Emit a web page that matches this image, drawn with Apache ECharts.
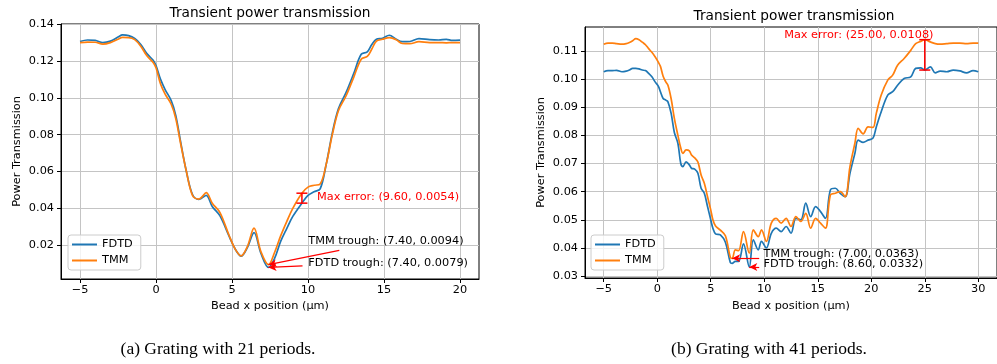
<!DOCTYPE html>
<html><head><meta charset="utf-8">
<script src="https://cdn.jsdelivr.net/npm/echarts@6/dist/echarts.min.js"></script>
<style>html,body{margin:0;padding:0;background:#fff}#c{width:997px;height:364px}</style>
</head><body><div id="c"></div>
<script>
// ---- data: (a) 21 periods ----
const xs21 = [-5,-4.5,-4,-3.5,-3,-2.5,-2.2,-1.8,-1.4,-1,-0.6,-0.2,0,0.3,0.6,1,1.3,1.6,2,2.4,2.8,3,3.3,3.7,4.2,4.8,5.2,5.6,6,6.45,6.9,7.4,7.8,8.2,8.6,9,9.6,10,10.4,10.8,11.2,11.6,12,12.5,13,13.5,13.9,14.2,14.5,14.9,15.35,15.8,16.2,16.7,17.3,18,18.6,19.1,19.5,20];
const fdtd21 = [0.1306,0.1314,0.1312,0.1300,0.1308, 0.1330,0.1342,0.1338,0.1322,0.1290, 0.1240,0.1205,0.1175,0.1100,0.1045, 0.0985,0.0905,0.0770,0.0600,0.0475, 0.0448,0.0455,0.0470,0.0410,0.0360, 0.0250,0.0180,0.0140,0.0185,0.0268, 0.0156,0.0079,0.0128,0.0220,0.0290, 0.0356,0.0428,0.0470,0.0490,0.0505, 0.0640,0.0810,0.0940,0.1028,0.1130, 0.1237,0.1250,0.1290,0.1318,0.1323, 0.1340,0.1318,0.1305,0.1306,0.1322, 0.1316,0.1314,0.1318,0.1312,0.1313];
const tmm21 = [0.1300,0.1303,0.1302,0.1292,0.1300, 0.1318,0.1328,0.1327,0.1316,0.1280, 0.1228,0.1193,0.1163,0.1075,0.1020, 0.0965,0.0888,0.0760,0.0600,0.0470, 0.0450,0.0460,0.0485,0.0428,0.0378, 0.0255,0.0180,0.0142,0.0190,0.0292, 0.0165,0.0094,0.0160,0.0250,0.0328, 0.0400,0.0482,0.0515,0.0525,0.0532, 0.0640,0.0800,0.0930,0.1010,0.1110, 0.1210,0.1225,0.1265,0.1308,0.1318, 0.1327,0.1316,0.1295,0.1294,0.1305, 0.1300,0.1300,0.1299,0.1300,0.1300];
// ---- data: (b) 41 periods ----
const xs41 = [-5,-4.6,-4.2,-3.8,-3.3, -2.9,-2.6,-2.3,-2,-1.7, -1.4,-1.1,-0.8,-0.5,-0.2, 0.1,0.3,0.55,0.8,1, 1.3,1.6,1.93,2.2,2.4, 2.7,3,3.2,3.5,3.8, 4.1,4.4,4.7,5,5.2, 5.45,5.9,6.37,6.83,7, 7.3,7.6,8.06,8.6,8.98, 9.44,9.74,10.2,10.66,11.12, 11.58,12.04,12.5,12.96,13.42, 13.88,14.34,14.8,15.26,15.72, 16.18,16.64,17.1,17.56,18.01, 18.47,18.78,19.24,19.7,20.16, 20.47,20.93,21.54,22,22.46, 23.07,23.69,24.15,24.61,25, 25.52,25.98,26.44,27.06,27.66, 28.28,28.9,29.51,30];
const fdtd41 = [0.1026,0.1030,0.1030,0.1031,0.1026, 0.1028,0.1032,0.1038,0.1038,0.1036, 0.1032,0.1030,0.1020,0.1008,0.0990, 0.0975,0.0955,0.0931,0.0925,0.0919, 0.0878,0.0810,0.0772,0.0700,0.0689, 0.0706,0.0695,0.0683,0.0680,0.0665, 0.0612,0.0594,0.0547,0.0500,0.0470, 0.0450,0.0446,0.0420,0.0348,0.0345, 0.0352,0.0352,0.0414,0.0332,0.0429, 0.0393,0.0423,0.0400,0.0452,0.0470, 0.0458,0.0476,0.0452,0.0505,0.0500, 0.0559,0.0511,0.0547,0.0529,0.0505, 0.0606,0.0612,0.0594,0.0582,0.0665, 0.0736,0.0783,0.0775,0.0783,0.0790, 0.0830,0.0884,0.0943,0.0955,0.0978, 0.1002,0.1008,0.1038,0.1040,0.1032, 0.1043,0.1022,0.1028,0.1026,0.1032, 0.1029,0.1022,0.1030,0.1026];
const tmm41 = [0.1124,0.1128,0.1128,0.1126,0.1124, 0.1126,0.1130,0.1136,0.1144,0.1140, 0.1131,0.1122,0.1108,0.1095,0.1079, 0.1060,0.1045,0.1010,0.0990,0.0978, 0.0930,0.0860,0.0800,0.0755,0.0736, 0.0748,0.0745,0.0730,0.0720,0.0705, 0.0659,0.0630,0.0582,0.0535,0.0500, 0.0478,0.0463,0.0443,0.0366,0.0363, 0.0393,0.0390,0.0458,0.0381,0.0464, 0.0440,0.0464,0.0423,0.0488,0.0505, 0.0488,0.0505,0.0476,0.0511,0.0494, 0.0523,0.0470,0.0505,0.0488,0.0470, 0.0588,0.0594,0.0600,0.0582,0.0689, 0.0772,0.0825,0.0805,0.0830,0.0828, 0.0878,0.0943,0.0996,0.1014,0.1049, 0.1073,0.1102,0.1126,0.1134,0.1140, 0.1132,0.1126,0.1124,0.1126,0.1128, 0.1128,0.1126,0.1128,0.1128];
// ---- ticks ----
const xTicks21 = [-5,0,5,10,15,20];
const yTicks21 = [0.02,0.04,0.06,0.08,0.10,0.12,0.14];
const xTicks41 = [-5,0,5,10,15,20,25,30];
const yTicks41 = [0.03,0.04,0.05,0.06,0.07,0.08,0.09,0.10,0.11];
const xRange21 = [-6.25, 21.25], yRange21 = [0.0016, 0.1401];
const xRange41 = [-6.75, 31.75], yRange41 = [0.0293, 0.1185];
// ---- texts ----
const chartTitle = 'Transient power transmission';
const xName = 'Bead x position (μm)';
const yName = 'Power Transmission';
const seriesNames = ['FDTD', 'TMM'];
const captions = ['(a) Grating with 21 periods.', '(b) Grating with 41 periods.'];
// ---- annotations (data coordinates) ----
const errBar21 = [9.6, 0.0428, 0.0482];
const errBar41 = [25.0, 0.1032, 0.1140];
const notes21 = [[10.59, 0.0459, 'Max error: (9.60, 0.0054)', '#ff0000', 'left'],
                 [10.02, 0.0223, 'TMM trough: (7.40, 0.0094)', '#000000', 'left'],
                 [10.02, 0.0102, 'FDTD trough: (7.40, 0.0079)', '#000000', 'left']];
const notes41 = [[18.84, 0.1156, 'Max error: (25.00, 0.0108)', '#ff0000', 'center'],
                 [9.93, 0.0378, 'TMM trough: (7.00, 0.0363)', '#000000', 'left'],
                 [9.93, 0.0343, 'FDTD trough: (8.60, 0.0332)', '#000000', 'left']];
const arrows21 = [[[12.06, 0.0171], [7.4, 0.0094]], [[9.64, 0.0087], [7.4, 0.0079]]];
const arrows41 = [[[9.53, 0.0363], [7.0, 0.0363]], [[9.53, 0.0332], [8.6, 0.0332]]];

const FF = 'DejaVu Sans';
const FS = 11.3;
const BLUE = '#1f77b4', ORANGE = '#ff7f0e', RED = '#ff0000';

function xAxisCfg(gi, range, ticks, gap) {
  return {
    type: 'value', gridIndex: gi, min: range[0], max: range[1],
    axisLine: {show: true, onZero: false, lineStyle: {color: '#000', width: 1}},
    axisTick: {show: true, length: 4, customValues: ticks, lineStyle: {color: '#000', width: 1}},
    axisLabel: {customValues: ticks, margin: 6, fontSize: FS, fontFamily: FF, color: '#000',
      formatter: v => String(v).replace('-', '\u2212')},
    splitLine: {show: true, lineStyle: {color: '#c4c4c4', width: 1}},
    name: xName, nameLocation: 'middle', nameGap: gap,
    nameTextStyle: {fontSize: FS, fontFamily: FF, color: '#000'}
  };
}
function yAxisCfg(gi, range, ticks) {
  return {
    type: 'value', gridIndex: gi, min: range[0], max: range[1],
    axisLine: {show: true, onZero: false, lineStyle: {color: '#000', width: 1}},
    axisTick: {show: true, length: 4, customValues: ticks, lineStyle: {color: '#000', width: 1}},
    axisLabel: {customValues: ticks, margin: 7, fontSize: FS, fontFamily: FF, color: '#000',
      formatter: v => v.toFixed(2)},
    splitLine: {show: true, lineStyle: {color: '#c4c4c4', width: 1}},
    name: yName, nameLocation: 'middle', nameGap: 38, nameRotate: 90,
    nameTextStyle: {fontSize: FS, fontFamily: FF, color: '#000'}
  };
}
function lineSeries(name, gi, xs, ys, color, z) {
  return {type: 'line', name, xAxisIndex: gi, yAxisIndex: gi,
    data: xs.map((x, i) => [x, ys[i]]), smooth: 0.35, symbol: 'none',
    lineStyle: {color, width: 1.7}, itemStyle: {color}, z};
}
function errSeries(gi, bar) {
  return {type: 'custom', xAxisIndex: gi, yAxisIndex: gi, data: [bar], z: 10,
    encode: {x: 0, y: [1, 2]},
    renderItem: (p, api) => {
      const a = api.coord([api.value(0), api.value(1)]);
      const b = api.coord([api.value(0), api.value(2)]);
      const w = 5.5, st = {stroke: RED, lineWidth: 1.5};
      return {type: 'group', children: [
        {type: 'line', shape: {x1: a[0], y1: a[1], x2: b[0], y2: b[1]}, style: st},
        {type: 'line', shape: {x1: a[0] - w, y1: a[1], x2: a[0] + w, y2: a[1]}, style: st},
        {type: 'line', shape: {x1: b[0] - w, y1: b[1], x2: b[0] + w, y2: b[1]}, style: st}
      ]};
    }};
}
function noteSeries(gi, notes, arrows) {
  return {type: 'custom', xAxisIndex: gi, yAxisIndex: gi, z: 11, silent: true,
    data: notes.map(n => [n[0], n[1]]),
    encode: {x: 0, y: 1},
    renderItem: (p, api) => {
      const n = notes[p.dataIndex];
      const c = api.coord([api.value(0), api.value(1)]);
      return {type: 'text', x: c[0], y: c[1],
        style: {text: n[2], fill: n[3], align: n[4], verticalAlign: 'middle', fontSize: FS, fontFamily: FF}};
    },
    markLine: {silent: true, animation: false, label: {show: false},
      lineStyle: {color: RED, type: 'solid', width: 1.2},
      data: arrows.map(a => [
        {coord: a[0], symbol: 'none'},
        {coord: a[1], symbol: 'arrow', symbolSize: [6, 8]}])}};
}
function legendCfg(left) {
  return {data: seriesNames, left, top: 235, orient: 'vertical', icon: 'rect',
    itemWidth: 25, itemHeight: 2, itemGap: 5, padding: [4, 8, 4, 4],
    borderColor: '#cccccc', borderWidth: 1, borderRadius: 3,
    backgroundColor: 'rgba(255,255,255,0.8)',
    textStyle: {fontSize: FS, fontFamily: FF, color: '#000'}};
}

const chart = echarts.init(document.getElementById('c'));
chart.setOption({
  animation: false,
  backgroundColor: '#fff',
  textStyle: {fontFamily: FF},
  grid: [
    {left: 61, top: 24, width: 418, height: 255, show: true, borderColor: '#000', borderWidth: 1, backgroundColor: 'transparent'},
    {left: 585, top: 27, width: 419, height: 251, show: true, borderColor: '#000', borderWidth: 1, backgroundColor: 'transparent'}
  ],
  xAxis: [xAxisCfg(0, xRange21, xTicks21, 22), xAxisCfg(1, xRange41, xTicks41, 23)],
  yAxis: [yAxisCfg(0, yRange21, yTicks21), yAxisCfg(1, yRange41, yTicks41)],
  legend: [legendCfg(68), legendCfg(591)],
  series: [
    lineSeries(seriesNames[0], 0, xs21, fdtd21, BLUE, 3),
    lineSeries(seriesNames[1], 0, xs21, tmm21, ORANGE, 4),
    lineSeries(seriesNames[0], 1, xs41, fdtd41, BLUE, 3),
    lineSeries(seriesNames[1], 1, xs41, tmm41, ORANGE, 4),
    errSeries(0, errBar21), errSeries(1, errBar41),
    noteSeries(0, notes21, arrows21), noteSeries(1, notes41, arrows41)
  ],
  graphic: [
    {type: 'text', x: 270, y: 13, style: {text: chartTitle, align: 'center', verticalAlign: 'middle', fontSize: 13.7, fontFamily: FF, fill: '#000'}},
    {type: 'text', x: 794, y: 16, style: {text: chartTitle, align: 'center', verticalAlign: 'middle', fontSize: 13.7, fontFamily: FF, fill: '#000'}},
    {type: 'text', x: 218, y: 349, style: {text: captions[0], align: 'center', verticalAlign: 'middle', fontSize: 17.5, fontFamily: 'Liberation Serif', fill: '#000'}},
    {type: 'text', x: 769, y: 349, style: {text: captions[1], align: 'center', verticalAlign: 'middle', fontSize: 17.5, fontFamily: 'Liberation Serif', fill: '#000'}}
  ]
});
</script></body></html>
